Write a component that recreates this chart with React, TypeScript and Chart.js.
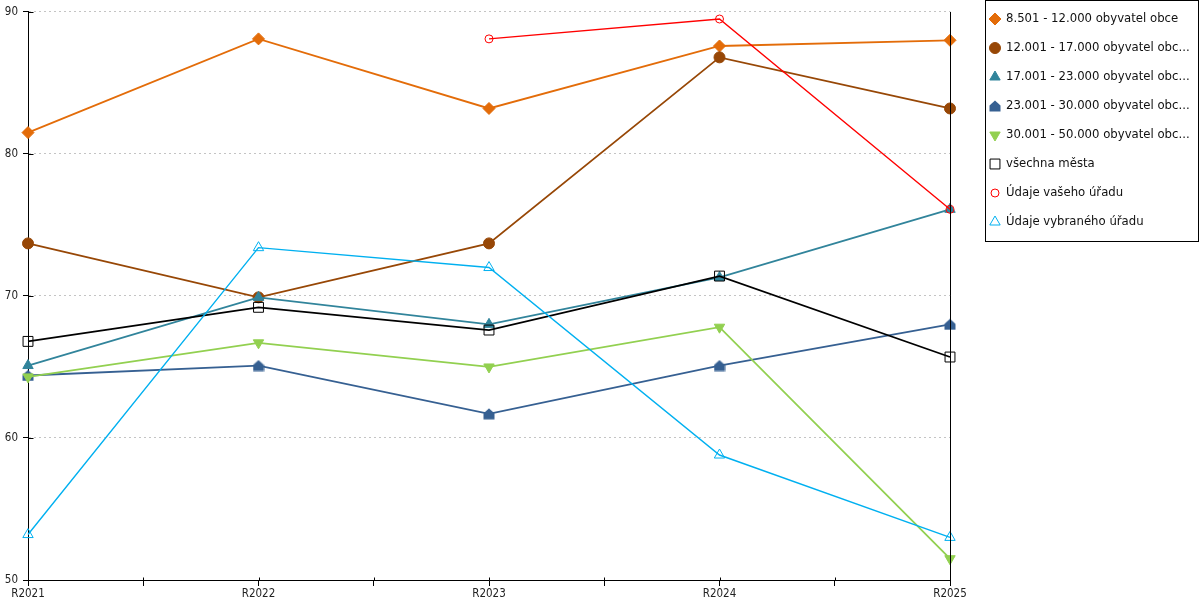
import { useEffect, useRef } from 'react';
import { Chart, registerables } from 'chart.js';
import { drawPoint } from 'chart.js/helpers';

Chart.register(...registerables);

const years = ['R2021', 'R2022', 'R2023', 'R2024', 'R2025'];

const seriesNames = [
  '8.501 - 12.000 obyvatel obce',
  '12.001 - 17.000 obyvatel obc...',
  '17.001 - 23.000 obyvatel obc...',
  '23.001 - 30.000 obyvatel obc...',
  '30.001 - 50.000 obyvatel obc...',
  'všechna města',
  'Údaje vašeho úřadu',
  'Údaje vybraného úřadu',
];

const group8501 = [81.5, 88.1, 83.2, 87.6, 88.0];
const group12001 = [73.7, 69.9, 73.7, 86.8, 83.2];
const group17001 = [65.1, 69.9, 68.0, 71.3, 76.1];
const group23001 = [64.4, 65.1, 61.7, 65.1, 68.0];
const group30001 = [64.3, 66.7, 65.0, 67.8, 51.5];
const allCities = [66.8, 69.2, 67.6, 71.4, 65.7];
const yourOffice = [null, null, 88.1, 89.5, 76.1];
const selectedOffice = [53.2, 73.4, 72.0, 58.8, 53.0];

const yTicks = [50, 60, 70, 80, 90];

const FONT = "'DejaVu Sans Condensed', 'DejaVu Sans', sans-serif";
const LEGEND_FONT = "'DejaVu Sans', sans-serif";

function houseMarker(color: string) {
  const c = document.createElement('canvas');
  c.width = 12;
  c.height = 12;
  const g = c.getContext('2d')!;
  g.fillStyle = color;
  g.beginPath();
  g.moveTo(6, 0.5);
  g.lineTo(11.5, 5.5);
  g.lineTo(11.5, 11.5);
  g.lineTo(0.5, 11.5);
  g.lineTo(0.5, 5.5);
  g.closePath();
  g.fill();
  return c;
}

export default function App() {
  const canvasRef = useRef<HTMLCanvasElement>(null);
  const chartRef = useRef<Chart | null>(null);

  useEffect(() => {
    document.body.style.margin = '0';
    if (!canvasRef.current) return;
    if (chartRef.current) chartRef.current.destroy();
    const ctx = canvasRef.current.getContext('2d');
    if (!ctx) return;

    const house = houseMarker('#366092');

    const styles: any[] = [
      { color: '#E36C09', pointStyle: 'rectRot', radius: 6, fill: '#E36C09', rotation: 0 },
      { color: '#974706', pointStyle: 'circle', radius: 5.5, fill: '#974706', rotation: 0 },
      { color: '#31849B', pointStyle: 'triangle', radius: 6, fill: '#31849B', rotation: 0 },
      { color: '#366092', pointStyle: house, radius: 6, fill: '#366092', rotation: 0 },
      { color: '#92D050', pointStyle: 'triangle', radius: 6, fill: '#92D050', rotation: 180 },
      { color: '#000000', pointStyle: 'rect', radius: 7, fill: 'transparent', rotation: 0 },
      { color: '#FF0000', pointStyle: 'circle', radius: 4, fill: 'transparent', rotation: 0 },
      { color: '#00B0F0', pointStyle: 'triangle', radius: 6, fill: 'transparent', rotation: 0 },
    ];
    const values = [group8501, group12001, group17001, group23001, group30001, allCities, yourOffice, selectedOffice];

    const extras = {
      id: 'extras',
      afterDraw(chart: any) {
        const c = chart.ctx;
        const area = chart.chartArea;
        const xs = chart.scales.x;
        const ys = chart.scales.y;
        c.save();
        c.strokeStyle = '#000';
        c.lineWidth = 1;
        // right frame line
        const rx = Math.round(area.right) + 0.5;
        c.beginPath();
        c.moveTo(rx, area.top);
        c.lineTo(rx, area.bottom);
        c.stroke();
        // inner parts of tick marks
        const lx = Math.round(area.left) + 0.5;
        ys.ticks.forEach((t: any) => {
          const y = Math.round(ys.getPixelForValue(t.value)) + 0.5;
          c.beginPath();
          c.moveTo(lx, y);
          c.lineTo(lx + 5, y);
          c.stroke();
        });
        const by = Math.round(area.bottom) + 0.5;
        xs.ticks.forEach((t: any) => {
          const x = Math.round(xs.getPixelForValue(t.value)) + 0.5;
          c.beginPath();
          c.moveTo(x, by);
          c.lineTo(x, by - 3);
          c.stroke();
        });

        // legend
        c.strokeStyle = '#000';
        c.strokeRect(985.5, 0.5, 213, 241);
        c.font = `11.7px ${LEGEND_FONT}`;
        c.textBaseline = 'middle';
        c.textAlign = 'left';
        seriesNames.forEach((name, i) => {
          const s = styles[i];
          const y = 19 + i * 29;
          c.fillStyle = s.fill;
          c.strokeStyle = s.color;
          c.lineWidth = 1;
          drawPoint(c, { pointStyle: s.pointStyle, rotation: s.rotation, radius: s.radius, borderWidth: 1 }, 995, y);
          c.fillStyle = '#111';
          c.fillText(name, 1006, y);
        });
        c.restore();
      },
    };

    chartRef.current = new Chart(ctx, {
      type: 'line',
      data: {
        datasets: seriesNames.map((name, i) => ({
          label: name,
          data: values[i].map((v, j) => ({ x: j, y: v })),
          borderColor: styles[i].color,
          backgroundColor: styles[i].fill,
          pointBorderColor: styles[i].color,
          pointBackgroundColor: styles[i].fill,
          pointStyle: styles[i].pointStyle,
          pointRotation: styles[i].rotation,
          pointRadius: styles[i].radius,
          pointBorderWidth: 1,
          borderWidth: i >= 6 ? 1.4 : 1.8,
          tension: 0,
          fill: false,
          clip: false,
          order: seriesNames.length - i,
        })),
      },
      options: {
        animation: false,
        responsive: true,
        maintainAspectRatio: false,
        layout: { padding: { top: 10, right: 250, left: 0, bottom: 0 } },
        plugins: {
          legend: { display: false },
          tooltip: { enabled: false },
        },
        scales: {
          x: {
            type: 'linear',
            min: 0,
            max: years.length - 1,
            afterFit: (scale: any) => { scale.height = 20; },
            afterBuildTicks: (scale: any) => {
              const t = [];
              for (let k = 0; k <= (years.length - 1) * 2; k++) t.push({ value: k / 2 });
              scale.ticks = t;
            },
            ticks: {
              autoSkip: false,
              maxRotation: 0,
              padding: 1,
              color: '#222',
              font: { family: FONT, size: 11.5 },
              callback: (v: any) => (Number.isInteger(v) ? years[v] : ''),
            },
            grid: { drawOnChartArea: false, tickLength: 6, tickColor: '#000' },
            border: { color: '#000' },
          },
          y: {
            min: 50,
            max: 90,
            afterFit: (scale: any) => { scale.width = 28; },
            afterBuildTicks: (scale: any) => {
              scale.ticks = yTicks.map((v) => ({ value: v }));
            },
            ticks: {
              padding: 5,
              color: '#222',
              font: { family: FONT, size: 11.5 },
            },
            grid: { color: '#c4c4c4', tickLength: 5, tickColor: '#000' },
            border: { color: '#000', dash: [2, 3] },
          },
        },
      },
      plugins: [extras],
    });

    return () => {
      if (chartRef.current) {
        chartRef.current.destroy();
        chartRef.current = null;
      }
    };
  }, []);

  return (
    <div style={{ width: 1200, height: 600, position: 'relative' }}>
      <canvas ref={canvasRef}></canvas>
    </div>
  );
}
